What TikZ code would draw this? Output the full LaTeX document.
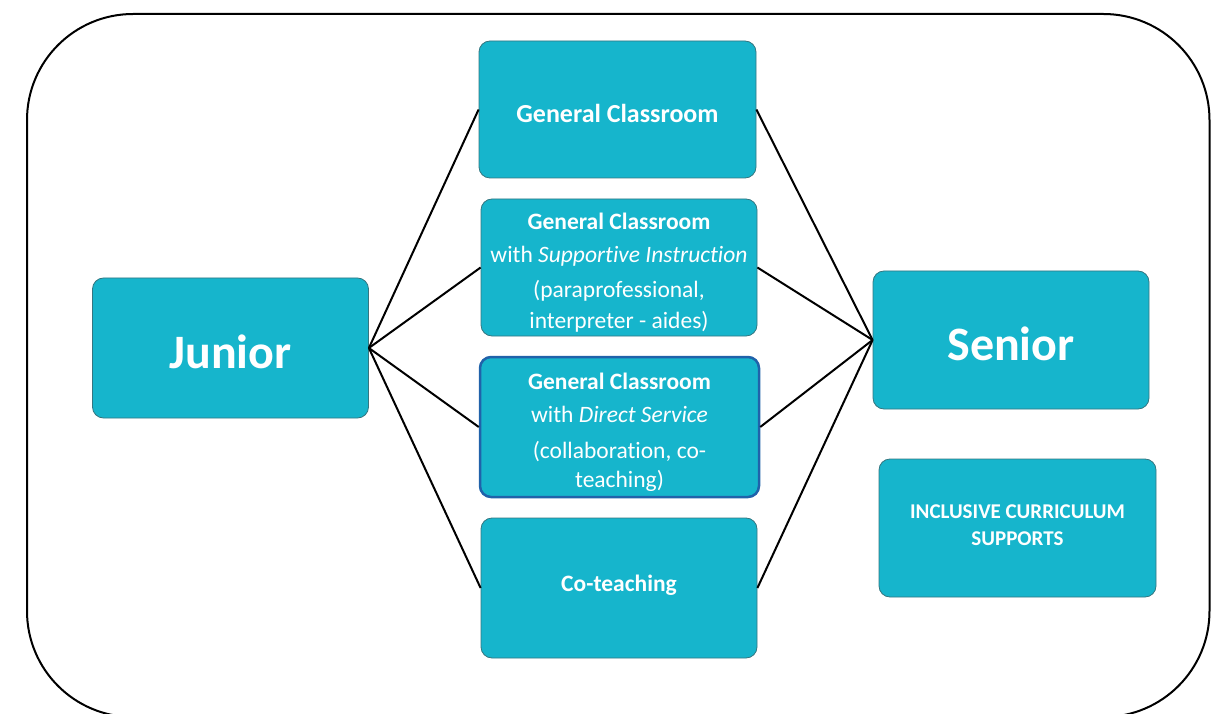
\documentclass[tikz,border=0pt]{standalone}
\usepackage{fontspec}
\setmainfont{Carlito}[Ligatures=NoCommon]
\definecolor{boxfill}{RGB}{22,181,204}
\definecolor{boxedge}{RGB}{52,118,128}
\definecolor{serviceedge}{RGB}{32,98,170}
% move box text vertically without changing its measured size
\newcommand\textshift[2]{\raisebox{#1}[\height][\depth]{#2}}
\tikzset{
  box/.style={draw=boxedge, line width=0.8pt, fill=boxfill, rounded corners=11pt,
    text=white, inner sep=0pt},
  link/.style={line width=2pt, black},
  frame/.style={line width=2pt, rounded corners=106pt}
}
\begin{document}
\begin{tikzpicture}[x=1pt,y=-1pt]
\useasboundingbox (0,0) rectangle (1211,714);
\clip (0,0) rectangle (1211,714);
% outer frame
\draw[frame] (27,14) rectangle (1209.5,717);

% end points
\node[box, minimum width=276pt, minimum height=140pt,
  font=\fontsize{48}{54}\selectfont\bfseries] (junior) at (230.5,348)
  {\textshift{-4pt}{Junior}};
\node[box, minimum width=276pt, minimum height=138pt,
  font=\fontsize{48}{54}\selectfont\bfseries] (senior) at (1011,340)
  {\textshift{-4pt}{Senior}};

% placement options
\node[box, minimum width=277pt, minimum height=137pt,
  font=\fontsize{26}{30}\selectfont\bfseries] (gen) at (617.5,109.5)
  {\textshift{-4pt}{General Classroom}};
\node[box, minimum width=276pt, minimum height=137pt,
  font=\fontsize{23.5}{31}\selectfont] (supp) at (619,267.5)
  {\textshift{-5pt}{\begin{tabular}{@{}c@{}}
   \textbf{General Classroom}\\[2pt] with \textit{Supportive Instruction}\\[4pt]
   (paraprofessional,\\ interpreter - aides)\end{tabular}}};
\node[box, draw=serviceedge, line width=2.5pt, minimum width=279pt, minimum height=140pt,
  font=\fontsize{23.5}{31}\selectfont] (direct) at (619.5,427)
  {\textshift{-5pt}{\begin{tabular}{@{}c@{}}
   \textbf{General Classroom}\\[2pt] with \textit{Direct Service}\\[5pt]
   (collaboration, co-\\[-2pt] teaching)\end{tabular}}};
\node[box, minimum width=276pt, minimum height=140pt,
  font=\fontsize{23.5}{28}\selectfont\bfseries] (cot) at (619,588)
  {\textshift{3pt}{Co-teaching}};

\node[box, minimum width=277pt, minimum height=138pt,
  font=\fontsize{21}{27}\selectfont\bfseries] (incl) at (1017.5,528)
  {\textshift{1pt}{\begin{tabular}{@{}c@{}}INCLUSIVE CURRICULUM\\ SUPPORTS\end{tabular}}};

% connectors
\foreach \n in {gen,supp,direct,cot}{
  \draw[link] (junior.east) -- (\n.west);
  \draw[link] (\n.east) -- (senior.west);
}
\end{tikzpicture}
\end{document}
